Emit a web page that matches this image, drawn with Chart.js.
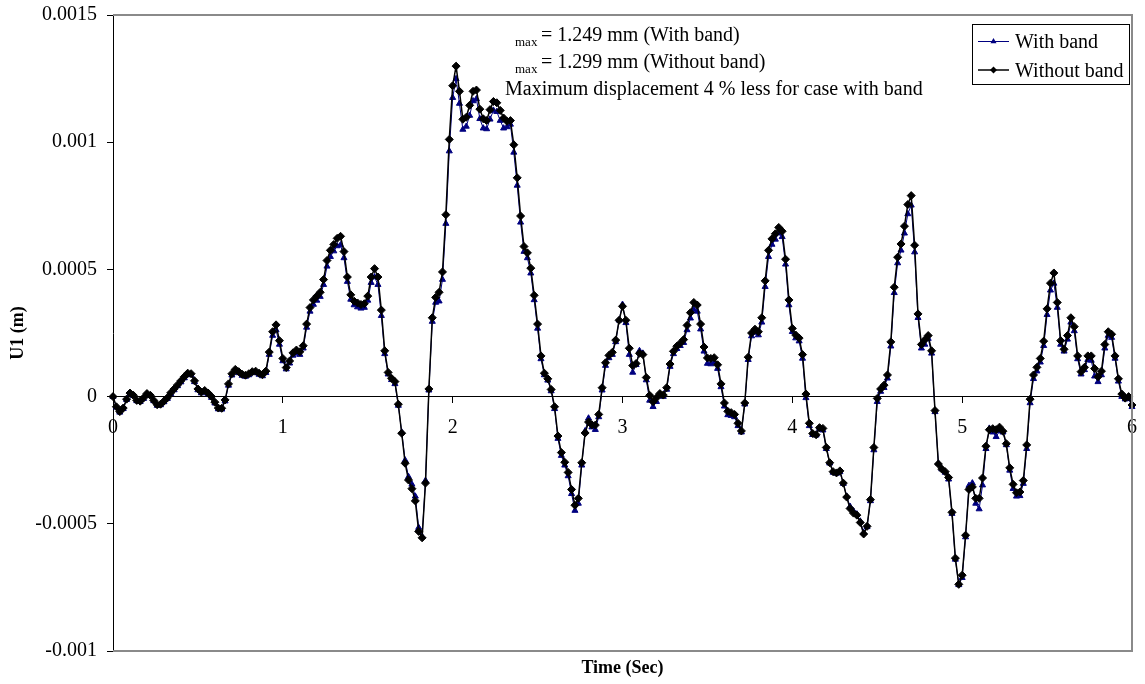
<!DOCTYPE html>
<html>
<head>
<meta charset="utf-8">
<title>U1 displacement</title>
<script src="https://cdn.jsdelivr.net/npm/chart.js@4.4.1/dist/chart.umd.min.js"></script>
<style>
  html, body { margin: 0; padding: 0; background: #fff; }
  #chart { display: block; }
</style>
</head>
<body>
<canvas id="chart" width="1145" height="684"></canvas>
<script>
// sampling step of the time history (s)
const timeStep = 0.02;

// U1 displacement in mm, one value per time step, 0 to 6 s
const withBand = [
  0.000, -0.042, -0.062, -0.048, -0.012, 0.011, 0.003, -0.017, -0.020, -0.008,
  0.009, 0.003, -0.017, -0.035, -0.033, -0.021, -0.008, 0.011, 0.026, 0.042,
  0.057, 0.073, 0.086, 0.085, 0.058, 0.026, 0.014, 0.020, 0.010, -0.004,
  -0.026, -0.049, -0.050, -0.018, 0.044, 0.084, 0.101, 0.093, 0.083, 0.079,
  0.085, 0.093, 0.095, 0.087, 0.081, 0.094, 0.165, 0.240, 0.262, 0.205,
  0.140, 0.108, 0.131, 0.162, 0.170, 0.165, 0.190, 0.272, 0.335, 0.362,
  0.378, 0.393, 0.440, 0.512, 0.550, 0.572, 0.592, 0.596, 0.545, 0.452,
  0.382, 0.360, 0.352, 0.347, 0.350, 0.378, 0.448, 0.470, 0.440, 0.318,
  0.168, 0.088, 0.066, 0.050, -0.035, -0.140, -0.250, -0.315, -0.345, -0.392,
  -0.515, -0.550, -0.330, 0.025, 0.295, 0.370, 0.375, 0.460, 0.680, 0.965,
  1.175, 1.249, 1.152, 1.050, 1.062, 1.105, 1.162, 1.170, 1.092, 1.055,
  1.052, 1.090, 1.125, 1.120, 1.085, 1.055, 1.060, 1.070, 0.960, 0.830,
  0.685, 0.570, 0.545, 0.485, 0.380, 0.268, 0.148, 0.085, 0.064, 0.022,
  -0.048, -0.165, -0.232, -0.270, -0.312, -0.382, -0.448, -0.420, -0.270, -0.135,
  -0.085, -0.120, -0.130, -0.080, 0.025, 0.122, 0.152, 0.165, 0.215, 0.300,
  0.362, 0.290, 0.165, 0.095, 0.125, 0.180, 0.170, 0.065, -0.015, -0.040,
  -0.020, 0.005, 0.000, 0.028, 0.118, 0.168, 0.188, 0.200, 0.212, 0.262,
  0.308, 0.342, 0.335, 0.265, 0.178, 0.130, 0.128, 0.135, 0.110, 0.038,
  -0.038, -0.072, -0.075, -0.080, -0.115, -0.140, -0.030, 0.145, 0.238, 0.252,
  0.242, 0.292, 0.432, 0.550, 0.598, 0.618, 0.642, 0.628, 0.520, 0.360,
  0.255, 0.230, 0.218, 0.150, -0.005, -0.115, -0.150, -0.152, -0.126, -0.132,
  -0.205, -0.262, -0.298, -0.302, -0.296, -0.342, -0.392, -0.432, -0.450, -0.462,
  -0.490, -0.535, -0.512, -0.410, -0.210, -0.020, 0.020, 0.035, 0.072, 0.198,
  0.408, 0.525, 0.575, 0.642, 0.718, 0.752, 0.568, 0.310, 0.190, 0.205,
  0.228, 0.170, -0.060, -0.262, -0.285, -0.298, -0.325, -0.460, -0.640, -0.740,
  -0.712, -0.552, -0.350, -0.340, -0.420, -0.442, -0.348, -0.205, -0.125, -0.140,
  -0.158, -0.135, -0.140, -0.190, -0.290, -0.362, -0.392, -0.390, -0.342, -0.205,
  -0.025, 0.070, 0.100, 0.135, 0.200, 0.322, 0.418, 0.445, 0.350, 0.205,
  0.178, 0.225, 0.292, 0.258, 0.148, 0.088, 0.105, 0.145, 0.142, 0.080,
  0.058, 0.085, 0.190, 0.240, 0.232, 0.150, 0.060, 0.000, -0.010, -0.008,
  -0.040
];

const withoutBand = [
  0.000, -0.040, -0.059, -0.045, -0.010, 0.014, 0.005, -0.015, -0.018, -0.005,
  0.012, 0.005, -0.015, -0.032, -0.030, -0.018, -0.005, 0.015, 0.030, 0.046,
  0.062, 0.078, 0.092, 0.090, 0.062, 0.030, 0.018, 0.024, 0.014, 0.000,
  -0.022, -0.045, -0.046, -0.013, 0.050, 0.090, 0.107, 0.098, 0.088, 0.084,
  0.090, 0.098, 0.100, 0.092, 0.086, 0.100, 0.175, 0.255, 0.282, 0.220,
  0.150, 0.114, 0.140, 0.172, 0.183, 0.176, 0.200, 0.285, 0.350, 0.380,
  0.395, 0.410, 0.460, 0.535, 0.575, 0.598, 0.622, 0.630, 0.570, 0.470,
  0.400, 0.375, 0.368, 0.362, 0.365, 0.395, 0.470, 0.503, 0.470, 0.340,
  0.180, 0.095, 0.072, 0.059, -0.030, -0.144, -0.262, -0.328, -0.362, -0.410,
  -0.530, -0.555, -0.340, 0.030, 0.310, 0.390, 0.410, 0.490, 0.715, 1.011,
  1.222, 1.299, 1.200, 1.090, 1.098, 1.145, 1.200, 1.205, 1.130, 1.092,
  1.085, 1.128, 1.160, 1.155, 1.125, 1.095, 1.082, 1.085, 0.990, 0.860,
  0.710, 0.590, 0.565, 0.505, 0.398, 0.285, 0.160, 0.092, 0.070, 0.028,
  -0.040, -0.155, -0.220, -0.258, -0.298, -0.365, -0.427, -0.400, -0.260, -0.143,
  -0.100, -0.111, -0.112, -0.070, 0.035, 0.133, 0.162, 0.174, 0.222, 0.300,
  0.355, 0.300, 0.190, 0.122, 0.130, 0.170, 0.165, 0.075, 0.005, -0.020,
  -0.005, 0.012, 0.006, 0.035, 0.128, 0.178, 0.198, 0.210, 0.224, 0.280,
  0.330, 0.370, 0.360, 0.285, 0.195, 0.152, 0.150, 0.153, 0.125, 0.050,
  -0.025, -0.058, -0.063, -0.070, -0.105, -0.135, -0.025, 0.155, 0.250, 0.265,
  0.255, 0.310, 0.455, 0.575, 0.620, 0.640, 0.665, 0.650, 0.540, 0.380,
  0.268, 0.242, 0.230, 0.165, 0.010, -0.105, -0.145, -0.150, -0.122, -0.125,
  -0.200, -0.260, -0.295, -0.300, -0.292, -0.340, -0.395, -0.440, -0.458, -0.466,
  -0.495, -0.540, -0.510, -0.405, -0.200, -0.007, 0.030, 0.045, 0.085, 0.215,
  0.430, 0.548, 0.600, 0.670, 0.755, 0.790, 0.595, 0.325, 0.205, 0.223,
  0.240, 0.180, -0.055, -0.265, -0.285, -0.295, -0.318, -0.455, -0.635, -0.738,
  -0.702, -0.545, -0.365, -0.355, -0.400, -0.400, -0.320, -0.195, -0.130, -0.126,
  -0.130, -0.120, -0.136, -0.185, -0.280, -0.345, -0.378, -0.375, -0.330, -0.190,
  -0.010, 0.085, 0.115, 0.150, 0.218, 0.345, 0.446, 0.486, 0.370, 0.220,
  0.186, 0.240, 0.310, 0.275, 0.160, 0.098, 0.115, 0.160, 0.160, 0.110,
  0.078, 0.100, 0.205, 0.255, 0.245, 0.160, 0.070, 0.010, -0.006, 0.000,
  -0.033
];

const timeSec = withoutBand.map((_, i) => +(i * timeStep).toFixed(2));
const seriesNames = ["With band", "Without band"];

const serif = "'Liberation Serif', 'Times New Roman', serif";
Chart.defaults.font.family = serif;
Chart.defaults.font.size = 20;
Chart.defaults.color = "#000";

// mm -> m for plotting
const toPoints = (arr) => arr.map((v, i) => ({ x: timeSec[i], y: v / 1000 }));

function triangle(ctx, x, y, r) {
  ctx.beginPath();
  ctx.moveTo(x, y - r);
  ctx.lineTo(x + r * 0.87, y + r * 0.5);
  ctx.lineTo(x - r * 0.87, y + r * 0.5);
  ctx.closePath();
  ctx.fill();
}

function diamond(ctx, x, y, r) {
  ctx.beginPath();
  ctx.moveTo(x, y - r);
  ctx.lineTo(x + r, y);
  ctx.lineTo(x, y + r);
  ctx.lineTo(x - r, y);
  ctx.closePath();
  ctx.fill();
}

// grey plot frame, the max-displacement notes and the boxed legend
const frameAndNotes = {
  id: "frameAndNotes",
  afterDraw(chart) {
    const { ctx, chartArea: a } = chart;
    ctx.save();

    ctx.strokeStyle = "#8a8a8a";
    ctx.lineWidth = 2;
    ctx.beginPath();
    ctx.moveTo(a.left, a.top);
    ctx.lineTo(a.right, a.top);
    ctx.lineTo(a.right, a.bottom);
    ctx.lineTo(a.left, a.bottom);
    ctx.stroke();

    ctx.fillStyle = "#000";
    ctx.textAlign = "left";
    ctx.textBaseline = "alphabetic";
    const notes = [
      [`= ${Math.max(...withBand).toFixed(3)} mm (With band)`, 41],
      [`= ${Math.max(...withoutBand).toFixed(3)} mm (Without band)`, 68],
    ];
    notes.forEach(([text, y]) => {
      ctx.font = `13px ${serif}`;
      ctx.fillText("max", 515, y + 4.5);
      ctx.font = `20px ${serif}`;
      ctx.fillText(text, 541, y);
    });
    ctx.fillText("Maximum displacement 4 % less for case with band", 505, 95);

    // x axis title sits below the frame, not at the zero line
    ctx.font = `bold 18px ${serif}`;
    ctx.textAlign = "center";
    ctx.fillText("Time (Sec)", (a.left + a.right) / 2, 673);

    // legend
    ctx.fillStyle = "#fff";
    ctx.fillRect(972, 24, 157, 60);
    ctx.strokeStyle = "#000";
    ctx.lineWidth = 1;
    ctx.strokeRect(972.5, 24.5, 157, 60);

    const rows = [
      { y: 41.5, base: 48, color: "#000080", mark: triangle },
      { y: 70, base: 76.5, color: "#000", mark: diamond },
    ];
    rows.forEach((row, i) => {
      ctx.strokeStyle = row.color;
      ctx.fillStyle = row.color;
      ctx.lineWidth = i === 0 ? 1 : 1.5;
      ctx.beginPath();
      ctx.moveTo(978, row.y);
      ctx.lineTo(1009, row.y);
      ctx.stroke();
      row.mark(ctx, 993.5, row.y, 3.5);
      ctx.fillStyle = "#000";
      ctx.font = `20px ${serif}`;
      ctx.textAlign = "left";
      ctx.fillText(seriesNames[i], 1015, row.base);
    });

    ctx.restore();
  },
};

new Chart(document.getElementById("chart"), {
  type: "line",
  data: {
    datasets: [
      {
        label: seriesNames[0],
        data: toPoints(withBand),
        borderColor: "#000080",
        backgroundColor: "#000080",
        borderWidth: 1,
        pointStyle: "triangle",
        pointRadius: 3.5,
        pointBorderWidth: 1,
        clip: 8,
        order: 1,
      },
      {
        label: seriesNames[1],
        data: toPoints(withoutBand),
        borderColor: "#000",
        backgroundColor: "#000",
        borderWidth: 1.5,
        pointStyle: "rectRot",
        pointRadius: 4,
        pointBorderWidth: 1,
        clip: 8,
        order: 0,
      },
    ],
  },
  options: {
    responsive: false,
    animation: false,
    devicePixelRatio: 1,
    layout: { padding: { left: 0, top: 15, right: 13, bottom: 33 } },
    plugins: {
      legend: { display: false },
      tooltip: { enabled: false },
    },
    scales: {
      x: {
        type: "linear",
        min: 0,
        max: 6,
        position: { y: 0 },
        ticks: { stepSize: 1, padding: 13, maxRotation: 0 },
        grid: { drawOnChartArea: false, color: "#000", tickLength: 6 },
        border: { color: "#000" },
        afterFit: (s) => {
          s.paddingLeft = 0;
          s.paddingRight = 0;
          s.paddingTop = 0;
          s.paddingBottom = 0;
        },
      },
      y: {
        min: -0.001,
        max: 0.0015,
        ticks: {
          stepSize: 0.0005,
          padding: 10,
          callback: (v) => String(+v.toFixed(4)),
        },
        grid: { drawOnChartArea: false, color: "#000", tickLength: 6 },
        border: { color: "#000" },
        title: {
          display: true,
          text: "U1 (m)",
          font: { size: 18, weight: "bold" },
          padding: { top: 8, bottom: 0 },
        },
        afterFit: (s) => {
          s.width = 113;
          s.paddingTop = 0;
          s.paddingBottom = 0;
        },
      },
    },
  },
  plugins: [frameAndNotes],
});
</script>
</body>
</html>
